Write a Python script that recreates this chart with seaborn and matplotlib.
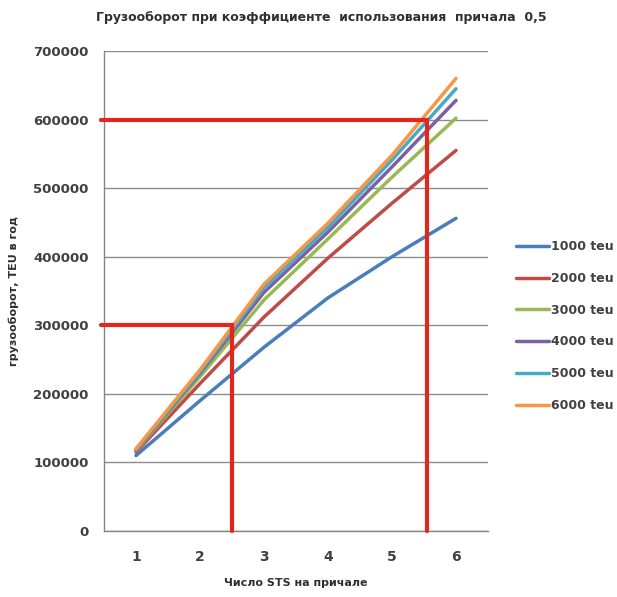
import matplotlib
matplotlib.use("Agg")
import matplotlib.pyplot as plt
import seaborn as sns
import pandas as pd
import numpy as np

# Number of STS cranes at the berth
cranes = [1, 2, 3, 4, 5, 6]

# Annual throughput (TEU) for each vessel size
series_names = ["1000 teu", "2000 teu", "3000 teu", "4000 teu", "5000 teu", "6000 teu"]
teu_1000 = [110000, 190000, 268000, 340000, 400000, 456000]
teu_2000 = [115000, 215000, 312000, 398000, 478000, 555000]
teu_3000 = [117000, 225000, 337000, 426000, 516000, 602000]
teu_4000 = [118000, 230000, 348000, 436000, 531000, 628000]
teu_5000 = [119000, 232000, 355000, 443000, 541000, 645000]
teu_6000 = [120000, 235000, 360000, 449000, 548000, 660000]

# Target throughput levels and the crane counts that reach them
targets = [300000, 600000]
target_cranes = [2.5, 5.54]

yticks = [0, 100000, 200000, 300000, 400000, 500000, 600000, 700000]

colors = ["#4A7EBB", "#BE4B48", "#98B954", "#7D60A0", "#46AAC5", "#F79646"]

all_values = [teu_1000, teu_2000, teu_3000, teu_4000, teu_5000, teu_6000]
df = pd.DataFrame({
    "cranes": np.tile(cranes, len(series_names)),
    "teu": np.concatenate(all_values),
    "series": np.repeat(series_names, len(cranes)),
})

sns.set_theme(style="white")
plt.rcParams["font.family"] = ["DejaVu Sans"]

fig = plt.figure(figsize=(6.17, 5.97), dpi=100)
ax = fig.add_axes([104 / 617, 1 - 531 / 597, 384 / 617, 480 / 597])

sns.lineplot(data=df, x="cranes", y="teu", hue="series", palette=colors,
             linewidth=2.5, ax=ax, legend=True, zorder=3)

# Reference lines for the target throughputs
for t, c in zip(targets, target_cranes):
    ax.plot([0.45, c, c], [t, t, 0], color="#E2281E", linewidth=3.0,
            solid_joinstyle="miter", clip_on=False, zorder=4)

ax.set_xlim(0.5, 6.5)
ax.set_ylim(0, 700000)
ax.set_yticks(yticks)
ax.set_yticklabels([str(v) for v in yticks], fontsize=9.5, fontweight="bold", color="#404040")
ax.set_xticks(cranes)
ax.set_xticklabels([str(v) for v in cranes], fontsize=10, fontweight="bold", color="#404040")
ax.set_xticks(np.arange(0.5, 7, 1), minor=True)
ax.tick_params(axis="x", which="major", length=0, pad=14)
ax.tick_params(axis="x", which="minor", length=5, color="#868686", direction="out")
ax.tick_params(axis="y", which="major", length=5, color="#868686", direction="out", pad=6)

ax.grid(axis="y", color="#8C8C8C", linewidth=1.0, zorder=0)
ax.grid(axis="x", visible=False)
for side in ["top", "right"]:
    ax.spines[side].set_visible(False)
for side in ["left", "bottom"]:
    ax.spines[side].set_color("#868686")
    ax.spines[side].set_linewidth(1.0)

ax.set_xlabel("Число STS на причале", fontsize=8, fontweight="bold", color="#303030", labelpad=10)
ax.set_ylabel("грузооборот, TEU в год", fontsize=8, fontweight="bold", color="#303030", labelpad=10)
fig.text(0.52, 1 - 17 / 597, "Грузооборот при коэффициенте  использования  причала  0,5",
         ha="center", va="center", fontsize=9, fontweight="bold", color="#303030")

handles, labels = ax.get_legend_handles_labels()
ax.legend(handles, labels, loc="center left", bbox_to_anchor=(505 / 617, 1 - 326 / 597),
          bbox_transform=fig.transFigure, frameon=False, handlelength=2.6,
          handletextpad=0.2, labelspacing=1.5, prop={"size": 9, "weight": "bold"},
          labelcolor="#404040")

fig.savefig("out.png", dpi=100)
